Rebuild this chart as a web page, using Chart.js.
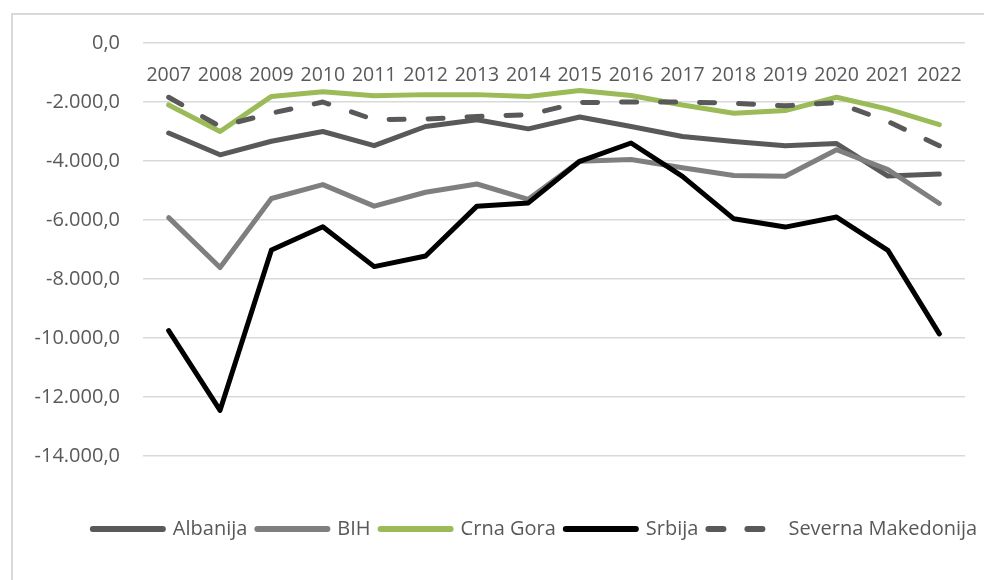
<!DOCTYPE html>
<html>
<head>
<meta charset="utf-8">
<script src="https://cdn.jsdelivr.net/npm/chart.js@4.4.1/dist/chart.umd.min.js"></script>
<style>
  html, body { margin: 0; padding: 0; background: #fff; overflow: hidden; }
  #wrap { position: relative; width: 984px; height: 580px; overflow: hidden; }
  #frame { position: absolute; left: 11px; top: 13px; width: 1000px; height: 600px; border: 2px solid #d9d9d9; box-sizing: border-box; }
  #chart { position: absolute; left: 0; top: 0; }
</style>
</head>
<body>
<div id="wrap">
  <div id="frame"></div>
  <canvas id="chart" width="1070" height="580"></canvas>
</div>
<script>
// categories and series (trade balance)
const years = ['2007', '2008', '2009', '2010', '2011', '2012', '2013', '2014',
               '2015', '2016', '2017', '2018', '2019', '2020', '2021', '2022'];

const albanija = [-3050, -3790, -3330, -3000, -3480, -2830, -2600, -2910,
                  -2510, -2830, -3170, -3340, -3480, -3410, -4510, -4440];
const bih = [-5920, -7610, -5270, -4800, -5530, -5060, -4780, -5300,
             -4010, -3950, -4230, -4490, -4520, -3620, -4290, -5440];
const crnaGora = [-2100, -3000, -1810, -1650, -1790, -1750, -1750, -1810,
                  -1610, -1780, -2100, -2380, -2290, -1840, -2240, -2770];
const srbija = [-9750, -12450, -7020, -6230, -7580, -7220, -5530, -5420,
                -4010, -3390, -4520, -5960, -6240, -5900, -7030, -9860];
const severnaMakedonija = [-1840, -2830, -2380, -2000, -2600, -2580, -2490, -2430,
                           -2020, -2000, -2000, -2040, -2130, -2020, -2660, -3480];

const seriesNames = ['Albanija', 'BIH', 'Crna Gora', 'Srbija', 'Severna Makedonija'];
const seriesData = [albanija, bih, crnaGora, srbija, severnaMakedonija];
const seriesColors = ['#595959', '#7f7f7f', '#9bbb59', '#000000', '#595959'];
const seriesDash = [[], [], [], [], [15, 24]];

const yTicks = { min: -14000, max: 0, step: 2000 };

const textColor = '#595959';
const fontFamily = "'Open Sans', sans-serif";
const lineW = 5;

// 1234.5 -> "1.234,5"
function fmt(v) {
  const neg = v < 0;
  const s = Math.abs(v).toFixed(1);
  let [int, dec] = s.split('.');
  int = int.replace(/\B(?=(\d{3})+(?!\d))/g, '.');
  return (neg ? '-' : '') + int + ',' + dec;
}

const datasets = seriesNames.map((name, i) => ({
  label: name,
  data: seriesData[i],
  borderColor: seriesColors[i],
  backgroundColor: seriesColors[i],
  borderWidth: lineW,
  borderDash: seriesDash[i],
  borderCapStyle: 'round',
  borderJoinStyle: 'round',
  pointRadius: 0,
  pointHoverRadius: 0,
  tension: 0,
  fill: false,
  order: seriesNames.length - i // later series drawn on top, like Excel
}));

Chart.defaults.font.family = fontFamily;
Chart.defaults.color = textColor;

const defaultLabels = Chart.defaults.plugins.legend.labels.generateLabels;

new Chart(document.getElementById('chart'), {
  type: 'line',
  data: { labels: years, datasets: datasets },
  options: {
    responsive: false,
    animation: false,
    devicePixelRatio: 1,
    layout: { padding: { left: 0, right: 0, top: 43, bottom: 31 } },
    plugins: {
      tooltip: { enabled: false },
      legend: {
        position: 'bottom',
        align: 'center',
        title: { display: true, text: '', font: { size: 11, lineHeight: 1 }, padding: { top: 0, bottom: 42 } },
        labels: {
          usePointStyle: true,
          pointStyle: 'line',
          pointStyleWidth: 70,
          padding: 10,
          color: textColor,
          font: { size: 20 },
          sort: (a, b) => a.datasetIndex - b.datasetIndex,
          generateLabels: (chart) => defaultLabels(chart).map((item) => {
            const ds = chart.data.datasets[item.datasetIndex];
            item.lineWidth = lineW + 1;
            item.strokeStyle = ds.borderColor;
            item.lineDash = ds.borderDash;
            item.lineCap = 'round';
            return item;
          })
        }
      }
    },
    scales: {
      x: {
        type: 'category',
        position: { y: 0 },
        offset: true,
        grid: { display: false, drawTicks: false },
        border: { display: false },
        ticks: { padding: 21, maxRotation: 0, autoSkip: false, color: textColor, font: { size: 19.5 } }
      },
      y: {
        position: 'left',
        min: yTicks.min,
        max: yTicks.max,
        grid: { color: '#d9d9d9', lineWidth: 1.5, drawTicks: false },
        border: { display: false },
        ticks: {
          stepSize: yTicks.step,
          padding: 23,
          color: textColor,
          font: { size: 20 },
          callback: (v) => fmt(v)
        },
        afterFit: (s) => { s.width = 143; }
      },
      pad: {
        position: 'right',
        display: true,
        grid: { display: false, drawTicks: false },
        border: { display: false },
        ticks: { display: false },
        afterFit: (s) => { s.width = 105; }
      }
    }
  }
});
</script>
</body>
</html>
